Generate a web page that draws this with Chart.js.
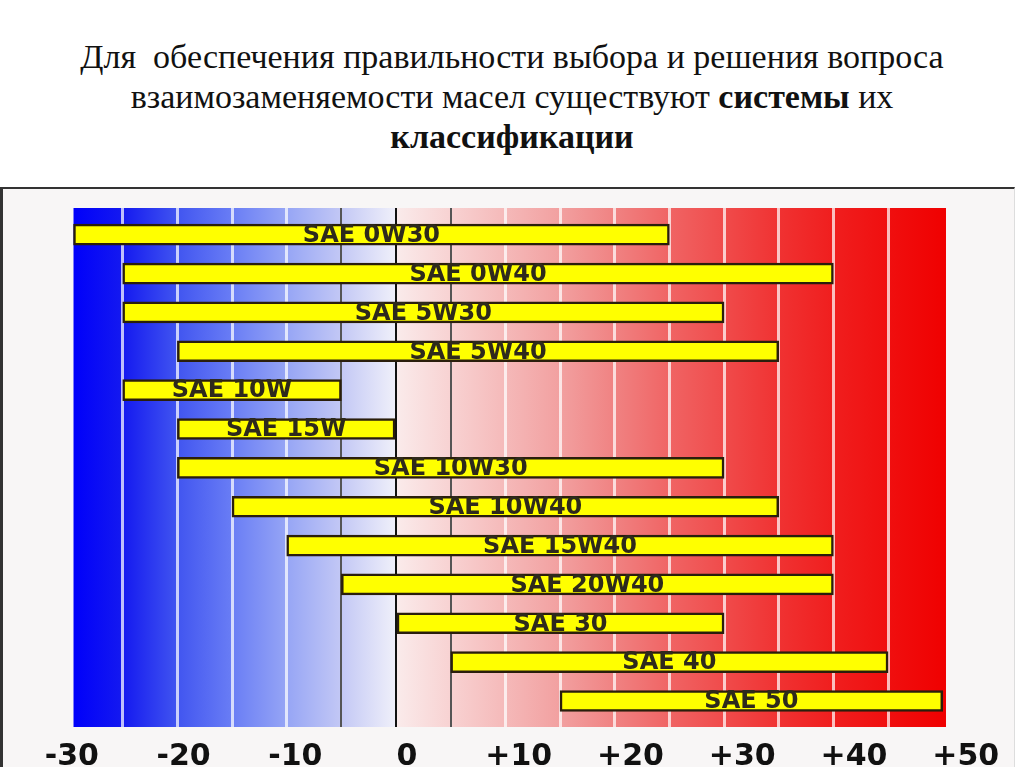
<!DOCTYPE html>
<html lang="ru">
<head>
<meta charset="utf-8">
<title>Классификация моторных масел SAE</title>
<script src="https://cdn.jsdelivr.net/npm/chart.js@4.4.1/dist/chart.umd.min.js"></script>
<style>
  html, body { margin: 0; padding: 0; background: #fff; }
  body { width: 1024px; height: 767px; overflow: hidden; position: relative; }
  .title {
    position: absolute; top: 37px; left: 0; width: 1024px;
    text-align: center; font-family: "Liberation Serif", serif;
    font-size: 34px; line-height: 40px; color: #111;
  }
  .box {
    position: absolute; top: 187px; left: 0; width: 1015px; height: 580px;
    box-sizing: border-box; background: #f8f6f6;
    border-top: 2px solid #333; border-left: 3px solid #333; border-right: 1px solid #ddd;
  }
  .chart-wrap { position: absolute; top: 188px; left: 0; width: 1024px; height: 579px; }
</style>
</head>
<body>
<div class="title">
  Для&nbsp; обеспечения правильности выбора и решения вопроса<br>
  взаимозаменяемости масел существуют <b>системы</b> их<br>
  <b>классификации</b>
</div>
<div class="box"></div>
<div class="chart-wrap"><canvas id="oilChart"></canvas></div>

<script>
  // Data (temperatures, °C)
  const oilGrades = ['SAE 0W30', 'SAE 0W40', 'SAE 5W30', 'SAE 5W40', 'SAE 10W', 'SAE 15W',
    'SAE 10W30', 'SAE 10W40', 'SAE 15W40', 'SAE 20W40', 'SAE 30', 'SAE 40', 'SAE 50'];
  const rangeFrom = [-29.5, -25, -25, -20, -25, -20, -20, -15, -10, -5, 0, 5, 15];
  const rangeTo   = [25, 40, 30, 35, -5, 0, 30, 35, 40, 40, 30, 45, 50];
  const tempTicks = [-30, -20, -10, 0, 10, 20, 30, 40, 50];
  const gridSteps = [-25, -20, -15, -10, -5, 0, 5, 10, 15, 20, 25, 30, 35, 40, 45];

  // Background colour band (cold -> hot)
  const bgFrom = -29.5, bgTo = 50.3;
  const bandStops = [
    [-29.5, 'rgb(0,0,250)'], [-25, 'rgb(20,25,240)'], [-20, 'rgb(65,85,240)'],
    [-15, 'rgb(105,125,245)'], [-10, 'rgb(150,165,245)'], [-5, 'rgb(195,200,245)'],
    [-0.01, 'rgb(240,240,250)'], [0.01, 'rgb(250,235,235)'], [5, 'rgb(248,210,210)'],
    [10, 'rgb(245,185,185)'], [15, 'rgb(242,160,160)'], [20, 'rgb(240,130,130)'],
    [25, 'rgb(240,100,100)'], [30, 'rgb(240,75,75)'], [35, 'rgb(240,50,50)'],
    [40, 'rgb(240,30,30)'], [45, 'rgb(240,15,15)'], [50.3, 'rgb(240,0,0)']
  ];

  const backdrop = {
    id: 'backdrop',
    beforeDraw(chart) {
      const { ctx, chartArea, scales } = chart;
      const x0 = scales.x.getPixelForValue(bgFrom);
      const x1 = scales.x.getPixelForValue(bgTo);
      const g = ctx.createLinearGradient(x0, 0, x1, 0);
      bandStops.forEach(([v, c]) => g.addColorStop((v - bgFrom) / (bgTo - bgFrom), c));
      ctx.save();
      ctx.fillStyle = g;
      ctx.fillRect(x0, chartArea.top, x1 - x0, chartArea.bottom - chartArea.top);
      ctx.restore();
    }
  };

  // Grade names written inside the bars
  const barNames = {
    id: 'barNames',
    afterDatasetsDraw(chart) {
      const { ctx } = chart;
      const meta = chart.getDatasetMeta(0);
      ctx.save();
      ctx.font = 'bold 24px "DejaVu Sans"';
      ctx.fillStyle = '#2e2a1c';
      ctx.textAlign = 'center';
      ctx.textBaseline = 'middle';
      meta.data.forEach((bar, i) => {
        ctx.fillText(oilGrades[i], (bar.x + bar.base) / 2, bar.y + 1);
      });
      ctx.restore();
    }
  };

  const oilCtx = document.getElementById('oilChart').getContext('2d');
  const oilChart = new Chart(oilCtx, {
    type: 'bar',
    data: {
      datasets: [{
        data: oilGrades.map((_, i) => ({ y: i, x: [rangeFrom[i], rangeTo[i]] })),
        backgroundColor: '#ffff00',
        borderColor: '#2a1e0c',
        borderWidth: 2.5,
        borderSkipped: false,
        barThickness: 21
      }]
    },
    options: {
      indexAxis: 'y',
      responsive: true,
      maintainAspectRatio: false,
      animation: false,
      layout: { padding: { left: 30, right: 24, top: 20, bottom: 0 } },
      plugins: { legend: { display: false }, tooltip: { enabled: false } },
      scales: {
        y: { type: 'linear', reverse: true, offset: false, min: -0.687, max: 12.669, display: false },
        x: {
          type: 'linear', position: 'bottom', min: -33.48, max: 55.24,
          afterBuildTicks: axis => { axis.ticks = gridSteps.map(v => ({ value: v })); },
          afterFit: axis => { axis.height = 0; },
          ticks: { display: false },
          border: { display: false },
          grid: {
            drawTicks: false,
            color: c => c.tick.value === 0 ? '#111' : (Math.abs(c.tick.value) === 5 ? '#555' : 'rgba(255,255,255,0.72)'),
            lineWidth: c => c.tick.value === 0 ? 2 : (Math.abs(c.tick.value) === 5 ? 2 : 3)
          }
        },
        temp: {
          type: 'linear', position: 'bottom', min: -33.74, max: 53.06,
          afterBuildTicks: axis => { axis.ticks = tempTicks.map(v => ({ value: v })); },
          afterFit: axis => { axis.height = 40; },
          grid: { display: false },
          border: { display: false },
          ticks: {
            autoSkip: false, maxRotation: 0, padding: 4, color: '#111',
            font: { family: 'DejaVu Sans', size: 30, weight: 'bold' },
            callback: v => v > 0 ? '+' + v : String(v)
          }
        }
      }
    },
    plugins: [backdrop, barNames]
  });
</script>
</body>
</html>
